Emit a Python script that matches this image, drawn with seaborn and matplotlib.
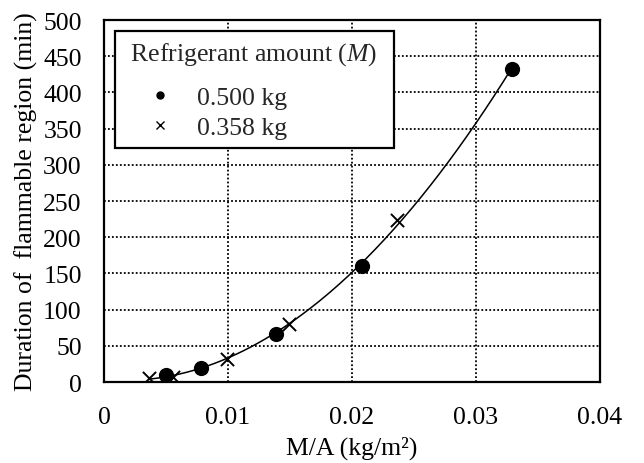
import numpy as np
import pandas as pd
import seaborn as sns
import matplotlib
matplotlib.use("Agg")
import matplotlib.pyplot as plt
from matplotlib.lines import Line2D

# Data
ma_500 = [0.0050, 0.0078, 0.0139, 0.0208, 0.0329]
dur_500 = [9, 20, 66, 160, 432]
ma_358 = [0.0036, 0.0056, 0.0099, 0.0149, 0.0236]
dur_358 = [5, 7, 32, 80, 224]
x_ticks = [0, 0.01, 0.02, 0.03, 0.04]
x_tick_labels = ["0", "0.01", "0.02", "0.03", "0.04"]
y_ticks = [0, 50, 100, 150, 200, 250, 300, 350, 400, 450, 500]

FS = 18.5

sns.set_theme(style="white")
plt.rcParams["font.family"] = ["Liberation Serif", "DejaVu Serif"]
plt.rcParams["mathtext.fontset"] = "custom"
plt.rcParams["mathtext.rm"] = "Liberation Serif"
plt.rcParams["mathtext.it"] = "Liberation Serif:italic"

fig = plt.figure(figsize=(6.44, 4.64), dpi=100)
ax = fig.add_axes([104 / 644, 1 - 383 / 464, (600 - 104) / 644, (383 - 21) / 464])

df5 = pd.DataFrame({"x": ma_500, "y": dur_500})
df3 = pd.DataFrame({"x": ma_358, "y": dur_358})

# trend line (2nd order polynomial fit of all points)
allx = np.array(ma_500 + ma_358)
ally = np.array(dur_500 + dur_358)
coef = np.polyfit(allx, ally, 2)
xf = np.linspace(allx.min(), allx.max(), 200)
dff = pd.DataFrame({"x": xf, "y": np.polyval(coef, xf)})
sns.lineplot(data=dff, x="x", y="y", ax=ax, color="black", linewidth=1.1, zorder=3)

sns.scatterplot(data=df5, x="x", y="y", ax=ax, marker="o", s=120, color="black",
                edgecolor="black", linewidth=0, zorder=4)
sns.scatterplot(data=df3, x="x", y="y", ax=ax, marker="x", s=90, color="black",
                linewidth=1.4, zorder=4)

ax.set_xlim(0, 0.04)
ax.set_ylim(0, 500)
ax.set_xticks(x_ticks)
ax.set_xticklabels(x_tick_labels)
ax.set_yticks(y_ticks)
ax.grid(True, color="black", linestyle=(0, (1, 1.2)), linewidth=1.3)
ax.set_axisbelow(True)
for s in ax.spines.values():
    s.set_color("black")
    s.set_linewidth(1.6)
ax.tick_params(axis="both", direction="in", length=5, width=1.2, colors="black",
               labelsize=FS)
ax.tick_params(axis="x", pad=17)
ax.tick_params(axis="y", pad=16)
ax.set_xlabel("M/A (kg/m²)", fontsize=FS, color="black", labelpad=6)
ax.set_ylabel("Duration of  flammable region (min)", fontsize=FS, color="black", labelpad=4)

handles = [
    Line2D([], [], marker="o", linestyle="none", color="black", markersize=5),
    Line2D([], [], marker="x", linestyle="none", color="black", markersize=6, markeredgewidth=1.0),
]
leg = ax.legend(handles, ["0.500 kg", "0.358 kg"], title=" Refrigerant amount ($\\it{M}$)  ",
                loc="upper left", bbox_to_anchor=(11 / 496, 1 - 11 / 362), fontsize=FS,
                title_fontsize=FS, frameon=True, fancybox=False, framealpha=1,
                edgecolor="black", borderpad=0.35, labelspacing=0.27, handlelength=2.8,
                handletextpad=0.05, borderaxespad=0)
leg.get_frame().set_linewidth(1.6)
leg._legend_box.align = "left"
leg._legend_box.sep = 0.27 * FS + 8.8
leg.set_zorder(6)

fig.savefig("out.png", dpi=100)
